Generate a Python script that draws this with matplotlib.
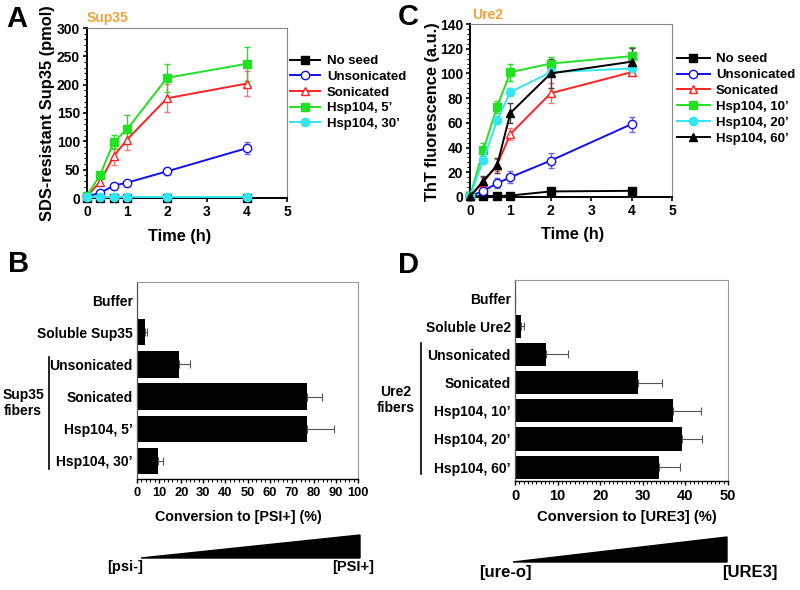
import matplotlib
matplotlib.use("Agg")
import matplotlib.pyplot as plt
from matplotlib.ticker import MultipleLocator
from matplotlib.patches import Polygon
from matplotlib.lines import Line2D

plt.rcParams['font.family'] = ['Liberation Sans', 'DejaVu Sans']
plt.rcParams['font.weight'] = 'bold'

# ---------------- data ----------------
time_h = [0, 0.33, 0.67, 1, 2, 4]

# Panel A: Sup35
a_labels = ['No seed', 'Unsonicated', 'Sonicated', 'Hsp104, 5’', 'Hsp104, 30’']
a_noseed = [0, 0, 0, 0, 0, 0]
a_noseed_err = [0, 0, 0, 0, 0, 0]
a_unson = [3, 9, 22, 27, 47, 88]
a_unson_err = [1, 2, 3, 3, 6, 10]
a_son = [3, 29, 74, 103, 176, 202]
a_son_err = [1, 5, 15, 18, 25, 22]
a_h5 = [4, 41, 99, 121, 212, 237]
a_h5_err = [1, 4, 12, 25, 25, 30]
a_h30 = [2, 2, 2, 2, 2, 2]
a_h30_err = [0.5, 0.5, 0.5, 0.5, 0.5, 1]

# Panel C: Ure2
c_labels = ['No seed', 'Unsonicated', 'Sonicated', 'Hsp104, 10’', 'Hsp104, 20’', 'Hsp104, 60’']
c_noseed = [0.5, 0.8, 0.8, 1.2, 4.5, 5]
c_noseed_err = [0, 0, 0, 0, 0.5, 0.5]
c_unson = [0.5, 5, 11, 16, 29.5, 59]
c_unson_err = [0, 3, 4, 5, 6, 6]
c_son = [0.5, 12, 26, 51, 84, 101]
c_son_err = [0, 4, 5, 5, 8, 3]
c_h10 = [0.5, 38, 73, 101, 108, 114]
c_h10_err = [0, 6, 5, 7, 5, 7]
c_h20 = [0.5, 30, 62, 85, 101, 104]
c_h20_err = [0, 3, 3, 3, 3, 3]
c_h60 = [0.5, 13, 25.5, 68, 100, 109.5]
c_h60_err = [0, 4, 6, 8, 12, 11]

# Panel B
b_labels = ['Buffer', 'Soluble Sup35', 'Unsonicated', 'Sonicated', 'Hsp104, 5’', 'Hsp104, 30’']
b_values = [0, 3.4, 18.8, 76.7, 77, 9.3]
b_err = [0, 1.2, 5.3, 7.2, 12.3, 2.3]

# Panel D
d_labels = ['Buffer', 'Soluble Ure2', 'Unsonicated', 'Sonicated', 'Hsp104, 10’', 'Hsp104, 20’', 'Hsp104, 60’']
d_values = [0, 1.3, 7.3, 28.9, 37.1, 39.2, 33.7]
d_err = [0, 0.8, 5.1, 5.5, 6.6, 4.8, 5.1]

# ---------------- styles ----------------
BLACK = '#000000'
BLUE = '#1010EE'
RED = '#FF2222'
GREEN = '#22E022'
CYAN = '#33E6F2'
ORANGE = '#F2A23A'

W, H = 800, 590
fig = plt.figure(figsize=(8, 5.9), dpi=100)


def fx(px):
    return px / W


def fy(py):
    return 1 - py / H


def ax_rect(l, t, r, b):
    return [fx(l), fy(b), fx(r) - fx(l), fy(t) - fy(b)]


def style_line_axes(ax):
    for s in ['top', 'right']:
        ax.spines[s].set_color('#888888')
        ax.spines[s].set_linewidth(0.8)
    for s in ['left', 'bottom']:
        ax.spines[s].set_linewidth(1.4)
    ax.tick_params(axis='both', which='major', labelsize=10, width=1.2, length=3, pad=2)
    ax.tick_params(axis='both', which='minor', width=0.8, length=2)
    for lab in ax.get_xticklabels() + ax.get_yticklabels():
        lab.set_fontweight('bold')


def series(ax, y, err, color, marker, mfc, label, ecolor=None, ms=6):
    ax.errorbar(time_h, y, yerr=err, color=color, marker=marker, mfc=mfc, mec=color,
                ms=ms, lw=1.4, elinewidth=1.0, capsize=2, capthick=1.0,
                ecolor=ecolor or color, clip_on=False, zorder=3)
    return Line2D([], [], color=color, marker=marker, mfc=mfc, mec=color, ms=ms, lw=1.4, label=label)


# ---------------- Panel A ----------------
axA = fig.add_axes(ax_rect(87, 28, 287, 198))
hA = [
    series(axA, a_noseed, a_noseed_err, BLACK, 's', BLACK, a_labels[0]),
    series(axA, a_unson, a_unson_err, BLUE, 'o', 'white', a_labels[1], ecolor='#6a6aee'),
    series(axA, a_son, a_son_err, RED, '^', 'white', a_labels[2], ecolor='#ee7a7a'),
    series(axA, a_h5, a_h5_err, GREEN, 's', GREEN, a_labels[3]),
    series(axA, a_h30, a_h30_err, CYAN, 'o', CYAN, a_labels[4]),
]
axA.set_xlim(0, 5)
axA.set_ylim(0, 300)
axA.xaxis.set_major_locator(MultipleLocator(1))
axA.yaxis.set_major_locator(MultipleLocator(50))
axA.yaxis.set_minor_locator(MultipleLocator(10))
style_line_axes(axA)
axA.legend(handles=hA, loc='upper left', bbox_to_anchor=(fx(290), fy(55)), bbox_transform=fig.transFigure,
           frameon=False, borderpad=0, borderaxespad=0, handlelength=2.3, handletextpad=0.5,
           labelspacing=0.26, prop={'size': 9.5, 'weight': 'bold'})
fig.text(fx(180), fy(236), 'Time (h)', ha='center', va='center', fontsize=11.8, fontweight='bold')
fig.text(fx(48), fy(113), 'SDS-resistant Sup35 (pmol)', rotation=90, ha='center', va='center',
         fontsize=11.8, fontweight='bold')
fig.text(fx(87), fy(18), 'Sup35', color=ORANGE, ha='left', va='center', fontsize=10, fontweight='bold')
fig.text(fx(6), fy(19), 'A', ha='left', va='center', fontsize=21, fontweight='bold')

# ---------------- Panel C ----------------
axC = fig.add_axes(ax_rect(470, 24, 672, 197))
hC = [
    series(axC, c_noseed, c_noseed_err, BLACK, 's', BLACK, c_labels[0]),
    series(axC, c_unson, c_unson_err, BLUE, 'o', 'white', c_labels[1], ecolor='#6a6aee'),
    series(axC, c_son, c_son_err, RED, '^', 'white', c_labels[2], ecolor='#ee7a7a'),
    series(axC, c_h10, c_h10_err, GREEN, 's', GREEN, c_labels[3]),
    series(axC, c_h20, c_h20_err, CYAN, 'o', CYAN, c_labels[4]),
    series(axC, c_h60, c_h60_err, BLACK, '^', BLACK, c_labels[5], ecolor='#444444'),
]
axC.set_xlim(0, 5)
axC.set_ylim(0, 140)
axC.xaxis.set_major_locator(MultipleLocator(1))
axC.yaxis.set_major_locator(MultipleLocator(20))
axC.yaxis.set_minor_locator(MultipleLocator(4))
style_line_axes(axC)
axC.legend(handles=hC, loc='upper left', bbox_to_anchor=(fx(677), fy(53)), bbox_transform=fig.transFigure,
           frameon=False, borderpad=0, borderaxespad=0, handlelength=2.5, handletextpad=0.45,
           labelspacing=0.28, prop={'size': 9.5, 'weight': 'bold'})
fig.text(fx(573), fy(234), 'Time (h)', ha='center', va='center', fontsize=11.8, fontweight='bold')
fig.text(fx(432), fy(112), 'ThT fluorescence (a.u.)', rotation=90, ha='center', va='center',
         fontsize=11.8, fontweight='bold')
fig.text(fx(472), fy(15), 'Ure2', color=ORANGE, ha='left', va='center', fontsize=10, fontweight='bold')
fig.text(fx(398), fy(17), 'C', ha='left', va='center', fontsize=21, fontweight='bold')


# ---------------- bar panels ----------------
def style_bar_axes(ax, xsize):
    for s in ['top', 'right']:
        ax.spines[s].set_color('#999999')
        ax.spines[s].set_linewidth(0.8)
    ax.spines['left'].set_color('#555555')
    ax.spines['left'].set_linewidth(0.9)
    ax.spines['bottom'].set_linewidth(1.0)
    ax.tick_params(axis='y', length=0, pad=3, labelsize=10)
    ax.tick_params(axis='x', which='major', length=3, width=1.0, pad=3, labelsize=xsize)
    ax.tick_params(axis='x', which='minor', length=1.8, width=0.7)
    for lab in ax.get_yticklabels() + ax.get_xticklabels():
        lab.set_fontweight('bold')


axB = fig.add_axes(ax_rect(137, 282, 358, 479))
posB = list(range(len(b_labels)))
axB.barh(posB, b_values, height=0.82, color='black',
         xerr=[[0] * len(b_err), b_err], error_kw=dict(ecolor='#555555', elinewidth=0.8, capsize=3, capthick=0.8))
axB.set_yticks(posB)
axB.set_yticklabels(b_labels)
axB.set_ylim(5.56, -0.56)
axB.set_xlim(0, 100)
axB.xaxis.set_major_locator(MultipleLocator(10))
axB.xaxis.set_minor_locator(MultipleLocator(2))
style_bar_axes(axB, 9.3)
fig.text(fx(238), fy(517), 'Conversion to [PSI+] (%)', ha='center', va='center', fontsize=10.3,
         fontweight='bold')
fig.text(fx(8), fy(264), 'B', ha='left', va='center', fontsize=21, fontweight='bold')
fig.add_artist(Line2D([fx(49), fx(49)], [fy(357), fy(469)], color='black', lw=1.2))
fig.text(fx(23), fy(403), 'Sup35\nfibers', ha='center', va='center', fontsize=10, fontweight='bold',
         linespacing=1.1)
fig.patches.append(Polygon([[fx(141), fy(558)], [fx(360), fy(535)], [fx(360), fy(558)]],
                           closed=True, transform=fig.transFigure, facecolor='black', edgecolor='black'))
fig.text(fx(125), fy(567), '[psi-]', ha='center', va='center', fontsize=10.5, fontweight='bold')
fig.text(fx(353), fy(567), '[PSI+]', ha='center', va='center', fontsize=10.5, fontweight='bold')

axD = fig.add_axes(ax_rect(515, 280, 728, 481))
posD = list(range(len(d_labels)))
axD.barh(posD, d_values, height=0.82, color='black',
         xerr=[[0] * len(d_err), d_err], error_kw=dict(ecolor='#555555', elinewidth=0.8, capsize=3, capthick=0.8))
axD.set_yticks(posD)
axD.set_yticklabels(d_labels)
axD.set_ylim(6.49, -0.64)
axD.set_xlim(0, 50)
axD.xaxis.set_major_locator(MultipleLocator(10))
axD.xaxis.set_minor_locator(MultipleLocator(1))
style_bar_axes(axD, 10.5)
fig.text(fx(627), fy(517), 'Conversion to [URE3] (%)', ha='center', va='center', fontsize=10.6,
         fontweight='bold')
fig.text(fx(398), fy(265), 'D', ha='left', va='center', fontsize=21, fontweight='bold')
fig.add_artist(Line2D([fx(421), fx(421)], [fy(343), fy(474)], color='black', lw=1.2))
fig.text(fx(396), fy(400), 'Ure2\nfibers', ha='center', va='center', fontsize=10, fontweight='bold',
         linespacing=1.1)
fig.patches.append(Polygon([[fx(513), fy(562)], [fx(727), fy(537)], [fx(727), fy(562)]],
                           closed=True, transform=fig.transFigure, facecolor='black', edgecolor='black'))
fig.text(fx(505), fy(573), '[ure-o]', ha='center', va='center', fontsize=12, fontweight='bold')
fig.text(fx(750), fy(573), '[URE3]', ha='center', va='center', fontsize=12, fontweight='bold')

fig.savefig('out.png', dpi=100)
